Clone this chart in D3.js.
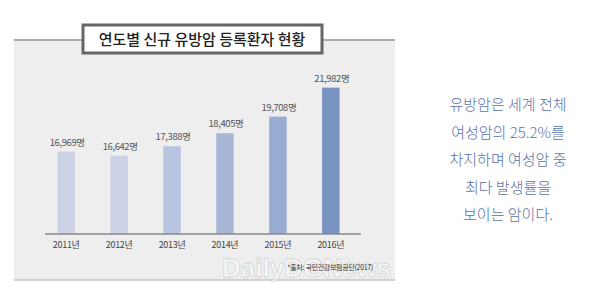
<!DOCTYPE html>
<html>
<head>
<meta charset="utf-8">
<script src="https://cdn.jsdelivr.net/npm/d3@7"></script>
<style>
  body { margin: 0; background: #fff; }
  svg { display: block; }
</style>
</head>
<body>
<div id="chart"></div>
<script>
// data
const years = ["2011년", "2012년", "2013년", "2014년", "2015년", "2016년"];
const patients = [16969, 16642, 17388, 18405, 19708, 21982];
const barColors = ["#cbd2e6", "#cbd2e6", "#b9c5e0", "#a9b7d7", "#98abd0", "#7a94c1"];
const titleText = "연도별 신규 유방암 등록환자 현황";
const sourceText = "*출처: 국민건강보험공단(2017)";
const noteLines = ["유방암은 세계 전체", "여성암의 25.2%를", "차지하며 여성암 중", "최다 발생률을", "보이는 암이다."];

const W = 599, H = 296;
const svg = d3.select("#chart").append("svg")
  .attr("width", W)
  .attr("height", H);

// panel
svg.append("rect")
  .attr("x", 14).attr("y", 40)
  .attr("width", 381).attr("height", 240)
  .attr("fill", "#eeeeee");
svg.append("line")
  .attr("x1", 14).attr("x2", 395)
  .attr("y1", 40).attr("y2", 40)
  .attr("stroke", "#aaaaaa").attr("stroke-width", 2);
svg.append("line")
  .attr("x1", 14).attr("x2", 395)
  .attr("y1", 280).attr("y2", 280)
  .attr("stroke", "#c4c4c4").attr("stroke-width", 1.5);

// title box
svg.append("rect")
  .attr("x", 83).attr("y", 25)
  .attr("width", 239).attr("height", 28)
  .attr("fill", "#fff")
  .attr("stroke", "#666").attr("stroke-width", 3);
svg.append("text")
  .attr("x", 202).attr("y", 44.5)
  .attr("text-anchor", "middle")
  .attr("font-family", "'Noto Sans CJK KR', sans-serif")
  .attr("font-size", 15)
  .attr("font-weight", 500)
  .attr("fill", "#222")
  .text(titleText);

// scales
const baseY = 234;
const x = d3.scaleBand()
  .domain(years)
  .range([40, 357])
  .paddingInner(0.67)
  .paddingOuter(0.33);
const y = d3.scaleLinear()
  .domain([10500, 22500])
  .range([baseY, baseY - 153]);

const g = svg.append("g");

g.selectAll("rect.bar")
  .data(patients)
  .enter().append("rect")
  .attr("class", "bar")
  .attr("x", (d, i) => x(years[i]))
  .attr("y", d => y(d))
  .attr("width", x.bandwidth())
  .attr("height", d => baseY - y(d))
  .attr("fill", (d, i) => barColors[i]);

g.selectAll("text.val")
  .data(patients)
  .enter().append("text")
  .attr("class", "val")
  .attr("x", (d, i) => x(years[i]) + x.bandwidth() / 2 + 1)
  .attr("y", d => y(d) - 6)
  .attr("text-anchor", "middle")
  .attr("font-family", "'Noto Sans CJK KR', sans-serif")
  .attr("font-size", 9.5)
  .attr("letter-spacing", -0.4)
  .attr("fill", "#555")
  .text(d => d3.format(",")(d) + "명");

// baseline axis
const axis = g.append("g")
  .attr("transform", "translate(0," + baseY + ")")
  .call(d3.axisBottom(x).tickSize(0).tickPadding(8));
axis.select(".domain")
  .attr("d", "M45,0H361")
  .attr("stroke", "#888")
  .attr("stroke-width", 1.5);
axis.selectAll("text")
  .attr("font-family", "'Noto Sans CJK KR', sans-serif")
  .attr("font-size", 9)
  .attr("letter-spacing", -0.3)
  .attr("fill", "#444");

// watermark
svg.append("text")
  .attr("x", 222).attr("y", 277)
  .attr("font-family", "'Liberation Sans', Arial, sans-serif")
  .attr("font-size", 26)
  .attr("font-weight", "bold")
  .attr("fill", "#fff")
  .attr("fill-opacity", 0.55)
  .attr("stroke", "#999")
  .attr("stroke-opacity", 0.35)
  .attr("stroke-width", 0.8)
  .text("DailyDGNews");

// source
svg.append("text")
  .attr("x", 373).attr("y", 270)
  .attr("text-anchor", "end")
  .attr("font-family", "'Noto Sans CJK KR', sans-serif")
  .attr("font-size", 7)
  .attr("letter-spacing", -0.3)
  .attr("fill", "#333")
  .text(sourceText);

// side note
svg.append("g").selectAll("text")
  .data(noteLines)
  .enter().append("text")
  .attr("x", 508)
  .attr("y", (d, i) => 110 + i * 27.5)
  .attr("text-anchor", "middle")
  .attr("font-family", "'Noto Sans CJK KR', sans-serif")
  .attr("font-size", 15)
  .attr("font-weight", 300)
  .attr("fill", "#5a72a8")
  .text(d => d);
</script>
</body>
</html>
